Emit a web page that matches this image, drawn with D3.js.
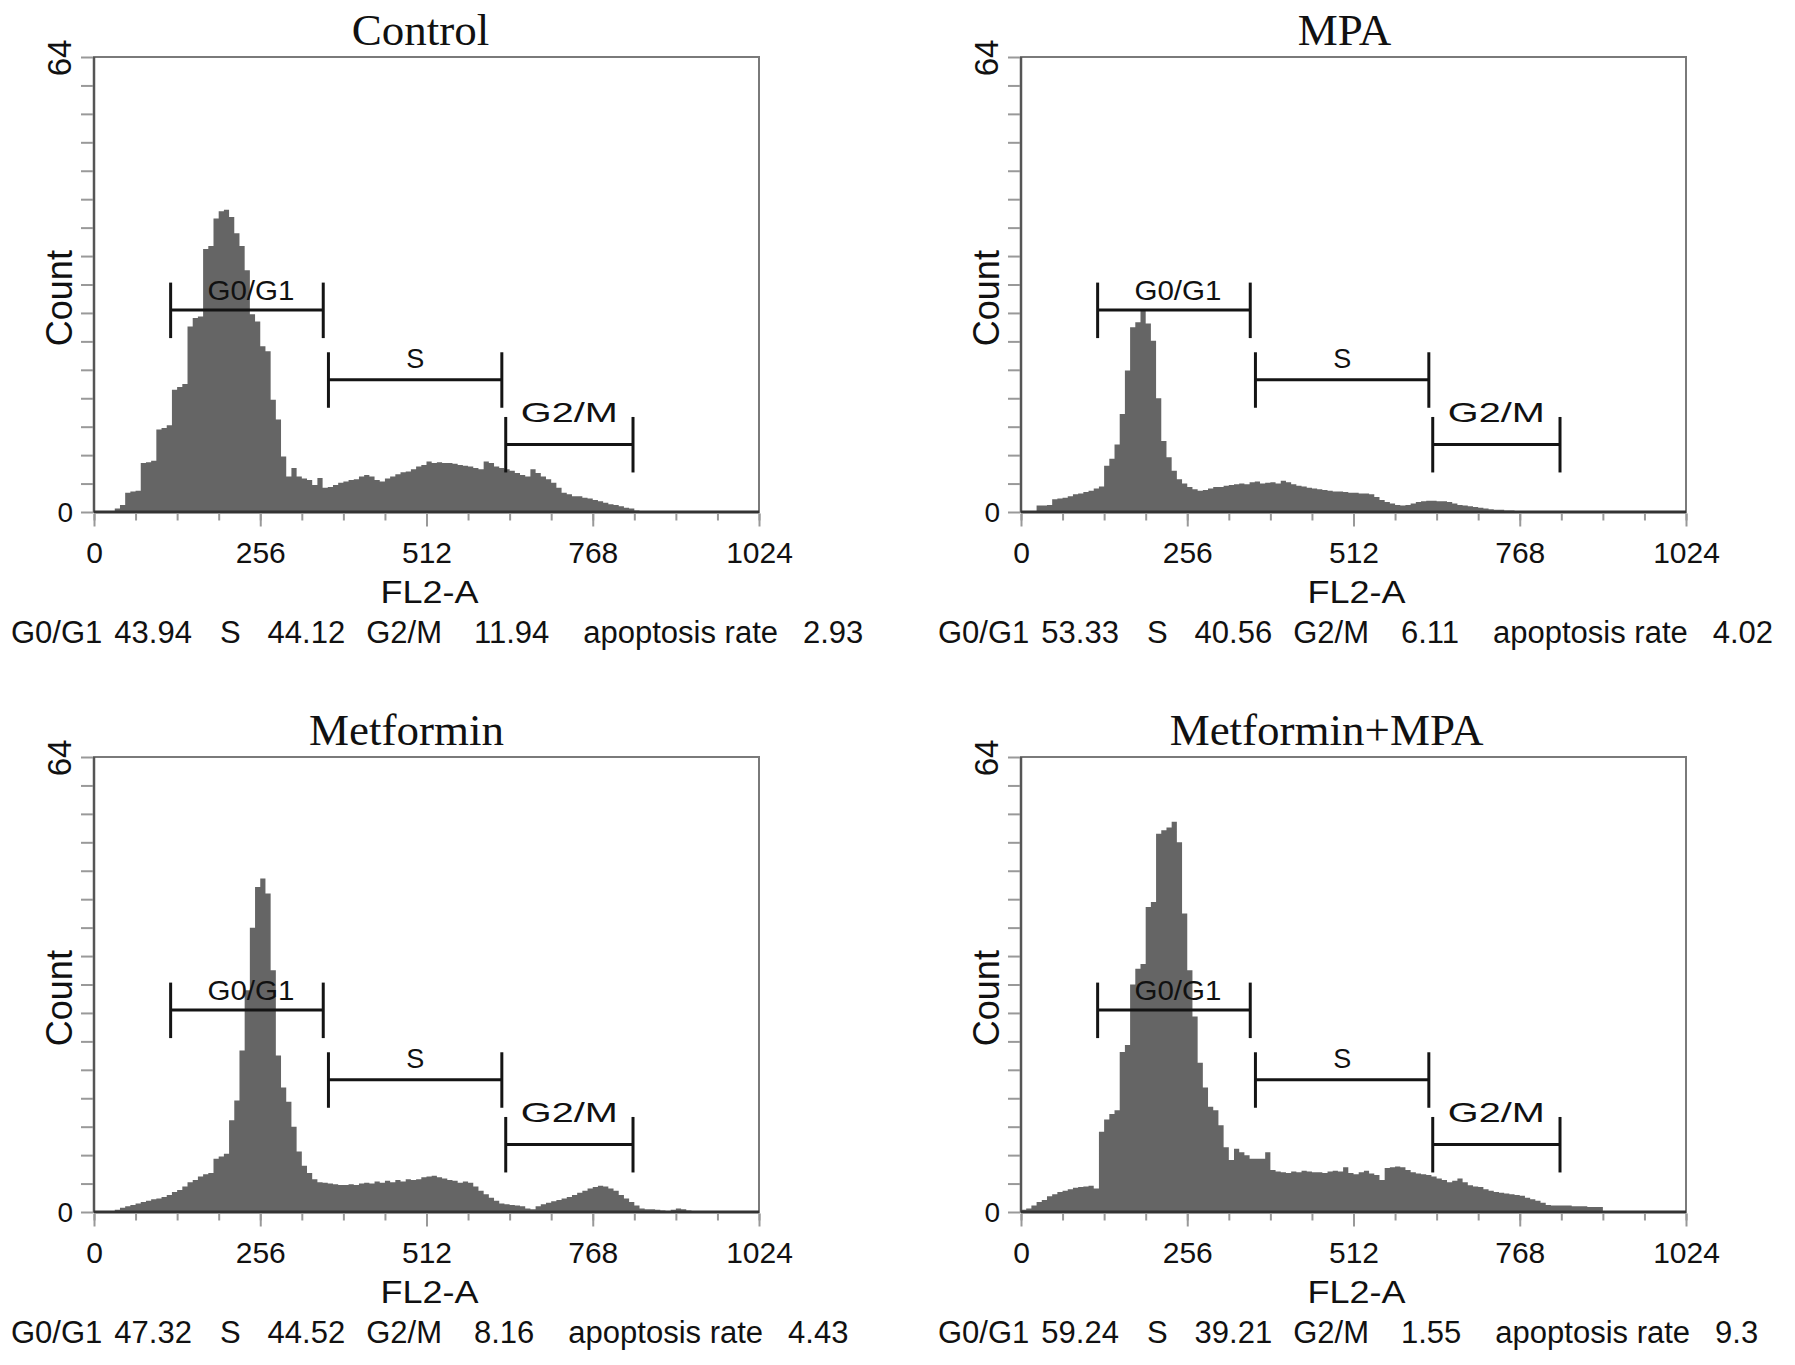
<!DOCTYPE html>
<html>
<head>
<meta charset="utf-8">
<script src="https://cdn.jsdelivr.net/npm/d3@7/dist/d3.min.js"></script>
<style>
  body { margin: 0; background: #fff; }
  text { font-family: "Liberation Sans", Arial, sans-serif; fill: #111; }
  .title { font-family: "Liberation Serif", "Times New Roman", serif; }
</style>
</head>
<body>
<div id="chart"></div>
<script>
// histogram counts, one value per 8-channel bin starting at channel 0
const binWidth = 8;
const titles = ["Control", "MPA", "Metformin", "Metformin+MPA"];

const controlCounts = [0, 0, 0, 0, 0.5, 1.0, 2.7, 2.9, 3.0, 6.9, 7.0, 7.2, 11.6, 11.8, 12.2,
  17.2, 17.6, 18, 26.1, 27.3, 27.5, 37, 37.4, 41.3, 42.3, 42.5, 41.5, 39.2, 37.4, 34,
  27.8, 26.8, 23.3, 22.6, 15.8, 13, 7.8, 5.0, 6.2, 5.0, 4.7, 4.5, 3.8, 4.8, 3.4,
  3.5, 3.8, 4.1, 4.3, 4.5, 4.6, 5.0, 5.2, 5.0, 4.5, 4.3, 4.7, 5.0, 5.3, 5.6,
  5.7, 6.0, 6.4, 6.6, 7.1, 6.9, 7.0, 6.9, 6.9, 6.8, 6.6, 6.5, 6.4, 6.2, 6.0,
  7.1, 6.9, 6.4, 6.2, 6.0, 5.8, 5.5, 5.2, 5.0, 6.0, 5.5, 5.0, 4.6, 4.1, 3.4,
  2.7, 2.5, 2.2, 2.2, 2.0, 1.9, 1.7, 1.5, 1.3, 1.1, 1.0, 0.8, 0.6, 0.5, 0.2];

const mpaCounts = [0, 0, 0, 0.9, 0.9, 1.0, 1.8, 1.9, 2.0, 2.2, 2.5, 2.6, 2.8, 3.0, 3.3,
  3.6, 6.5, 7.5, 9.5, 13.8, 19.9, 26.0, 26.7, 28.3, 26.5, 24.1, 16, 10, 7.7, 5.8,
  4.6, 4.0, 3.5, 3.2, 3.0, 3.1, 3.3, 3.5, 3.5, 3.7, 3.8, 3.9, 4.0, 3.9, 4.2,
  4.3, 4.0, 4.1, 4.2, 4.0, 4.4, 4.2, 3.9, 3.7, 3.6, 3.4, 3.3, 3.2, 3.1, 3.0,
  2.9, 2.9, 2.8, 2.7, 2.7, 2.6, 2.6, 2.5, 2.1, 1.7, 1.4, 1.2, 1.0, 0.9, 1.0,
  1.2, 1.4, 1.5, 1.6, 1.6, 1.5, 1.5, 1.4, 1.2, 1.0, 0.9, 0.8, 0.7, 0.6, 0.5,
  0.4, 0.3, 0.3, 0.2, 0.2, 0.1];

const metforminCounts = [0, 0, 0, 0, 0.3, 0.6, 0.8, 1.0, 1.2, 1.4, 1.6, 1.8, 1.9, 2.1, 2.4,
  2.8, 3.1, 3.6, 4.2, 4.5, 5.0, 5.3, 5.5, 7.5, 7.8, 8.2, 12.9, 15.7, 22.7, 31.2,
  40, 45.7, 46.9, 44.8, 34, 22, 17.5, 15.5, 12, 8.5, 6.5, 5.5, 4.6, 4.2, 4.1,
  4.0, 3.9, 3.8, 3.8, 3.9, 3.8, 4.0, 4.1, 4.0, 4.3, 4.1, 4.4, 4.2, 4.5, 4.3,
  4.6, 4.5, 4.6, 4.9, 5.0, 5.1, 4.9, 4.7, 4.5, 4.4, 4.1, 4.3, 4.1, 3.6, 3.0,
  2.5, 2.0, 1.6, 1.2, 1.1, 1.0, 0.9, 0.8, 0.5, 0.4, 0.8, 1.1, 1.3, 1.5, 1.7,
  1.9, 2.1, 2.4, 2.7, 3.0, 3.3, 3.5, 3.7, 3.6, 3.3, 3.0, 2.4, 1.9, 1.4, 0.9,
  0.5, 0.4, 0.4, 0.3, 0.2, 0.15, 0.3, 0.5, 0.4, 0.2, 0.15, 0.1];

const comboCounts = [0.3, 0.5, 0.9, 1.4, 1.7, 2.2, 2.5, 2.8, 3.0, 3.2, 3.4, 3.5, 3.6, 3.7, 3.3,
  11.3, 13.0, 13.8, 14.3, 22.5, 23.5, 32, 34.2, 34.9, 42.9, 43.6, 53.2, 53.7, 54.1, 54.9,
  52, 42, 34, 27.5, 21, 17.5, 14.8, 14.3, 12.2, 9.1, 7.3, 8.9, 8.4, 8.0, 7.5,
  7.5, 7.5, 8.4, 5.9, 5.7, 5.6, 5.5, 5.7, 5.6, 5.8, 5.7, 5.6, 5.6, 5.5, 5.7,
  5.8, 5.7, 6.3, 5.5, 5.3, 5.6, 5.8, 5.4, 5.2, 4.5, 6.2, 6.3, 6.4, 6.3, 5.9,
  5.6, 5.4, 5.3, 5.2, 5.0, 4.7, 4.5, 4.2, 4.4, 4.7, 4.2, 3.75, 3.6, 3.5, 3.2,
  3.0, 2.8, 2.7, 2.6, 2.5, 2.4, 2.3, 2.0, 1.8, 1.6, 1.3, 1.0, 0.9, 0.9, 0.9,
  0.9, 0.8, 0.8, 0.8, 0.7, 0.7, 0.7];

const channelTicks = [0, 256, 512, 768, 1024];
const countMax = 64;

// gates: channel range and bar height in counts
const markerNames = ["G0/G1", "S", "G2/M"];
const markerStart = [118, 361, 634];
const markerEnd = [353, 628, 830];
const markerLevel = [28.4, 18.6, 9.5];

const statLabels = ["G0/G1", "S", "G2/M", "apoptosis rate"];
const controlStats = ["43.94", "44.12", "11.94", "2.93"];
const mpaStats = ["53.33", "40.56", "6.11", "4.02"];
const metforminStats = ["47.32", "44.52", "8.16", "4.43"];
const comboStats = ["59.24", "39.21", "1.55", "9.3"];

const allCounts = [controlCounts, mpaCounts, metforminCounts, comboCounts];
const allStats = [controlStats, mpaStats, metforminStats, comboStats];

// layout
const dim = { width: 665, height: 455 };
const panelPos = [[94, 57], [1021, 57], [94, 757], [1021, 757]];
const titleShift = [-6, -9, -20, -27];
const labelLift = [10, 12, 22];
const labelShift = [4, 0, 0];
const labelFont = [28, 27, 28];
const labelLength = [87, null, 97];
const statGaps = [0, 12, 28, 27, 21, 32, 34, 25];

const svg = d3.select("#chart").append("svg")
  .attr("width", 1795)
  .attr("height", 1365);

const x = d3.scaleLinear().domain([0, 1024]).range([0, dim.width]);
const y = d3.scaleLinear().domain([0, countMax]).range([dim.height, 0]);

const area = d3.area()
  .curve(d3.curveStepAfter)
  .x(function (d) { return x(d.ch); })
  .y0(y(0))
  .y1(function (d) { return y(d.c); });

for (let p = 0; p < titles.length; p++) {
  const g = svg.append("g")
    .attr("transform", "translate(" + panelPos[p][0] + "," + panelPos[p][1] + ")");

  const pts = allCounts[p].map(function (c, i) { return { ch: i * binWidth, c: c }; });
  pts.push({ ch: allCounts[p].length * binWidth, c: 0 });

  g.append("path")
    .datum(pts)
    .attr("d", area)
    .style("fill", "#656565");

  // frame
  g.append("rect")
    .attr("width", dim.width)
    .attr("height", dim.height)
    .style("fill", "none")
    .style("stroke", "#7a7a7a")
    .style("stroke-width", 2);
  g.append("line")
    .attr("x1", 0).attr("x2", 0)
    .attr("y1", 0).attr("y2", dim.height)
    .style("stroke", "#555").style("stroke-width", 2.5);
  g.append("line")
    .attr("x1", 0).attr("x2", dim.width)
    .attr("y1", dim.height).attr("y2", dim.height)
    .style("stroke", "#333").style("stroke-width", 3);

  // x axis: minor ticks every 64, labels at 256 steps
  const xMinor = g.append("g")
    .attr("transform", "translate(0," + (dim.height + 1.5) + ")")
    .call(d3.axisBottom(x).tickValues(d3.range(0, 1025, 64)).tickSize(7).tickFormat(""));
  const xMajor = g.append("g")
    .attr("transform", "translate(0," + (dim.height + 1.5) + ")")
    .call(d3.axisBottom(x).tickValues(channelTicks).tickSize(13).tickPadding(15)
      .tickFormat(d3.format("d")));
  [xMinor, xMajor].forEach(function (ax) {
    ax.select(".domain").remove();
    ax.selectAll("line").style("stroke", "#999").style("stroke-width", 2);
  });
  xMajor.selectAll("text")
    .style("font-size", "30px")
    .style("fill", "#111")
    .style("font-family", "Liberation Sans, Arial, sans-serif");

  // y axis ticks every 4 counts
  const yAx = g.append("g")
    .attr("transform", "translate(-1,0)")
    .call(d3.axisLeft(y).tickValues(d3.range(0, countMax + 1, 4)).tickSize(12).tickFormat(""));
  yAx.select(".domain").remove();
  yAx.selectAll("line").style("stroke", "#999").style("stroke-width", 2);

  g.append("text")
    .attr("x", -21)
    .attr("y", y(0))
    .attr("text-anchor", "end")
    .attr("dominant-baseline", "central")
    .style("font-size", "28px")
    .text("0");
  g.append("text")
    .attr("transform", "translate(-35," + (y(countMax) + 1) + ") rotate(-90)")
    .attr("text-anchor", "middle")
    .attr("dominant-baseline", "central")
    .style("font-size", "33px")
    .text(String(countMax));
  g.append("text")
    .attr("transform", "translate(-35," + (dim.height * 0.53) + ") rotate(-90)")
    .attr("text-anchor", "middle")
    .attr("dominant-baseline", "central")
    .style("font-size", "36px")
    .text("Count");

  g.append("text")
    .attr("x", dim.width / 2 + 3)
    .attr("y", dim.height + 91)
    .attr("text-anchor", "middle")
    .attr("textLength", 98)
    .attr("lengthAdjust", "spacingAndGlyphs")
    .style("font-size", "31px")
    .text("FL2-A");

  g.append("text")
    .attr("class", "title")
    .attr("x", dim.width / 2 + titleShift[p])
    .attr("y", -12)
    .attr("text-anchor", "middle")
    .style("font-size", "45px")
    .text(titles[p]);

  // gate markers
  for (let m = 0; m < markerNames.length; m++) {
    const x1 = x(markerStart[m]);
    const x2 = x(markerEnd[m]);
    const yy = y(markerLevel[m]);
    const mk = g.append("g").style("stroke", "#141414").style("stroke-width", 3);
    mk.append("line").attr("x1", x1).attr("x2", x2).attr("y1", yy).attr("y2", yy);
    mk.append("line").attr("x1", x1).attr("x2", x1).attr("y1", yy - 27.5).attr("y2", yy + 28);
    mk.append("line").attr("x1", x2).attr("x2", x2).attr("y1", yy - 27.5).attr("y2", yy + 28);
    const t = g.append("text")
      .attr("x", (x1 + x2) / 2 + labelShift[m])
      .attr("y", yy - labelLift[m])
      .attr("text-anchor", "middle")
      .style("font-size", labelFont[m] + "px")
      .text(markerNames[m]);
    if (labelLength[m]) {
      t.attr("textLength", labelLength[m]).attr("lengthAdjust", "spacingAndGlyphs");
    }
  }

  // summary line under the axis
  const stat = g.append("text")
    .attr("x", -83)
    .attr("y", dim.height + 131)
    .style("font-size", "31px");
  const parts = [];
  for (let s = 0; s < statLabels.length; s++) {
    parts.push(statLabels[s], allStats[p][s]);
  }
  parts.forEach(function (txt, i) {
    stat.append("tspan").attr("dx", statGaps[i]).text(txt);
  });
}
</script>
</body>
</html>
